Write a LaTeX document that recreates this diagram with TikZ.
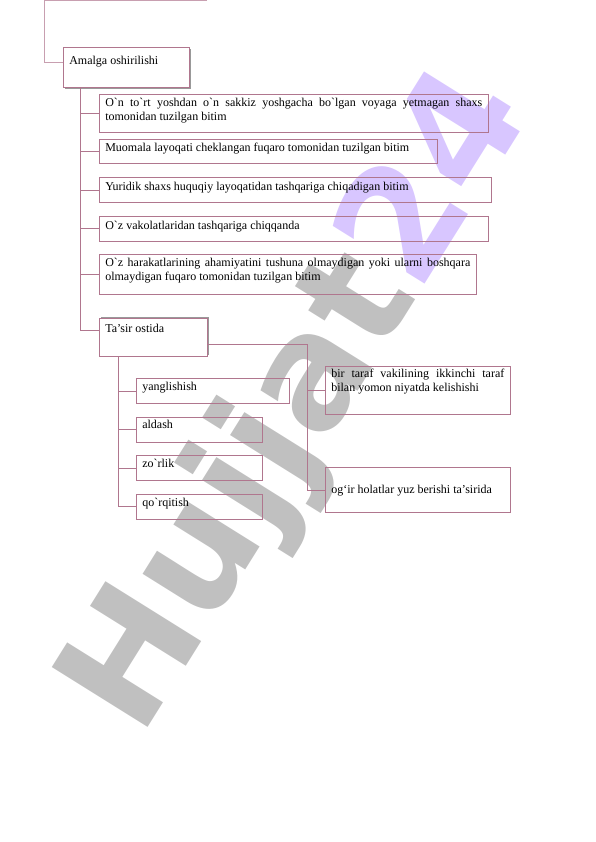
\documentclass[tikz,border=0pt]{standalone}
\usepackage{fontspec}
\setmainfont[Ligatures=TeXOff]{Liberation Serif}
\newfontfamily\markfont{DejaVu Sans}
\usepackage{tikz}
\usetikzlibrary{positioning,shadows}
\definecolor{rose}{RGB}{176,118,142}
\definecolor{markgray}{RGB}{192,192,192}
\definecolor{markviolet}{RGB}{216,198,255}
\newcommand{\boxfont}{\fontsize{12}{14}\selectfont\hyphenpenalty=10000\relax\exhyphenpenalty=10000\relax}
\tikzstyle{line} = [draw=rose,line width=0.6pt]
\tikzstyle{frame} = [draw=rose,line width=0.6pt,rectangle,anchor=north west,inner xsep=6pt,inner ysep=2pt,align=justify,font=\boxfont]
\tikzstyle{headbox} = [frame,fill=white]

\begin{document}
\begin{tikzpicture}[x=1pt,y=-1pt]
  \useasboundingbox (0,0) rectangle (596,842);
  % watermark
  \node[font=\markfont\bfseries\fontsize{155}{155}\selectfont,rotate=58,anchor=base west,inner sep=0pt] (watermark) at (140,740) {\textcolor{markgray}{Hujjat}\textcolor{markviolet}{24}};

  \coordinate (topend) at (207,0.5);
  \coordinate (topcorner) at (44,0.5);
  \node[headbox,text width=114pt,text height=15pt,text depth=21pt,drop shadow={shadow xshift=1.3pt,shadow yshift=-1.3pt,fill=gray!80,opacity=1}] (amalga) at (63,47) {Amalga oshirilishi};
  \draw[line,draw=rose!70] (topend) -- (topcorner) |- ([yshift=5pt]amalga.west);

  % left column
  \node[frame,text width=377pt,text height=10pt,text depth=24pt] (onto) at (99,94) {O\textasciigrave n to\textasciigrave rt yoshdan o\textasciigrave n sakkiz yoshgacha bo\textasciigrave lgan voyaga yetmagan shaxs tomonidan tuzilgan bitim};
  \node[frame,text width=326pt,text height=11pt,text depth=9pt] (muomala) [below=6pt of onto.south west,anchor=north west] {Muomala layoqati cheklangan fuqaro tomonidan tuzilgan bitim};
  \node[frame,text width=380pt,text height=11pt,text depth=10pt] (yuridik) [below=14pt of muomala.south west,anchor=north west] {Yuridik shaxs huquqiy layoqatidan tashqariga chiqadigan bitim};
  \node[frame,text width=377pt,text height=11pt,text depth=10pt] (vakolat) [below=13pt of yuridik.south west,anchor=north west] {O\textasciigrave z vakolatlaridan tashqariga chiqqanda};
  \node[frame,text width=365pt,text height=10pt,text depth=26pt] (harakat) [below=13pt of vakolat.south west,anchor=north west] {O\textasciigrave z harakatlarining ahamiyatini tushuna olmaydigan yoki ularni boshqara olmaydigan fuqaro tomonidan tuzilgan bitim};
  \node[headbox,text width=96pt,text height=12pt,text depth=22pt,drop shadow={shadow xshift=1.3pt,shadow yshift=1.3pt,fill=gray!80,opacity=1}] (tasir) [below=23pt of harakat.south west,anchor=north west] {Ta’sir ostida};

  \draw[line] ([xshift=17pt]amalga.south west) coordinate (trunk) |- ([yshift=7pt]tasir.west);
  \foreach \b in {onto,muomala,yuridik,vakolat,harakat}
    \draw[line] (trunk |- \b.west) -- (\b.west);

  % ta'sir ostida
  \node[frame,text width=141pt,text height=10pt,text depth=11pt] (yangl) at (136,378) {yanglishish};
  \node[frame,text width=114pt,text height=10pt,text depth=11pt] (aldash) [below=13pt of yangl.south west,anchor=north west] {aldash};
  \node[frame,text width=114pt,text height=10pt,text depth=11pt] (zorlik) [below=13pt of aldash.south west,anchor=north west] {zo\textasciigrave rlik};
  \node[frame,text width=114pt,text height=10pt,text depth=11pt] (qorqitish) [below=13pt of zorlik.south west,anchor=north west] {qo\textasciigrave rqitish};
  \draw[line] ([xshift=19pt]tasir.south west) coordinate (subtrunk) |- (qorqitish.west);
  \foreach \b in {yangl,aldash,zorlik}
    \draw[line] (subtrunk |- \b.west) -- (\b.west);

  \node[frame,text width=173pt,text height=9pt,text depth=35pt] (kelish) at (325,366) {bir taraf vakilining ikkinchi taraf bilan yomon niyatda kelishishi};
  \node[frame,text width=173pt,text height=24pt,text depth=17pt] (ogir) at (325,467) {og‘ir holatlar yuz berishi ta’sirida};
  \coordinate (rfork) at (307,0);
  \draw[line] ([yshift=-7pt]tasir.east) -| (rfork |- ogir.west) -- (ogir.west);
  \draw[line] (rfork |- kelish.west) -- (kelish.west);
\end{tikzpicture}
\end{document}
